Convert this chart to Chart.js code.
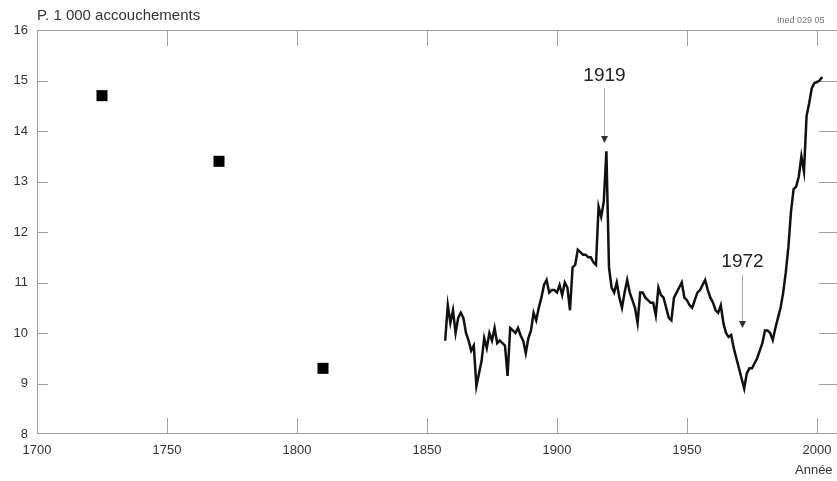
<!DOCTYPE html>
<html>
<head>
<meta charset="utf-8">
<script src="https://cdn.jsdelivr.net/npm/chart.js@4/dist/chart.umd.min.js"></script>
<style>
html, body { margin: 0; padding: 0; background: #fff; }
</style>
</head>
<body>
<canvas id="chart" width="837" height="481"></canvas>
<script>
// taux pour 1 000 accouchements, série annuelle 1857-2002
const firstYear = 1857
const rates = [
    9.85, 10.55, 10.2, 10.45, 10.0, 10.3, 10.4, 10.3, 10.0, 9.85,
    9.65, 9.75, 8.95, 9.2, 9.45, 9.9, 9.7, 10.0, 9.85, 10.1,
    9.8, 9.85, 9.8, 9.75, 9.15, 10.1, 10.05, 10.0, 10.1, 9.95,
    9.85, 9.6, 9.9, 10.05, 10.4, 10.25, 10.5, 10.7, 10.95, 11.05,
    10.8, 10.85, 10.85, 10.8, 10.95, 10.75, 11.0, 10.9, 10.45, 11.3,
    11.35, 11.65, 11.6, 11.55, 11.55, 11.5, 11.5, 11.4, 11.35, 12.5,
    12.3, 12.6, 13.6, 11.3, 10.9, 10.8, 11.0, 10.7, 10.5, 10.8,
    11.05, 10.8, 10.65, 10.5, 10.2, 10.8, 10.8, 10.7, 10.65, 10.6,
    10.6, 10.35, 10.9, 10.75, 10.7, 10.5, 10.3, 10.25, 10.7, 10.8,
    10.9, 11.0, 10.7, 10.65, 10.55, 10.5, 10.65, 10.8, 10.85, 10.95,
    11.05, 10.85, 10.7, 10.6, 10.45, 10.4, 10.55, 10.2, 10.0, 9.92,
    9.96, 9.7, 9.5, 9.3, 9.1, 8.9, 9.2, 9.3, 9.3, 9.4,
    9.5, 9.65, 9.8, 10.05, 10.05, 10.0, 9.86, 10.1, 10.3, 10.5,
    10.8, 11.2, 11.7, 12.4, 12.85, 12.9, 13.1, 13.5, 13.2, 14.3,
    14.55, 14.85, 14.95, 14.97, 15.0, 15.07
]

// estimations anciennes (carrés)
const earlyYears = [1725, 1770, 1810]
const earlyRates = [14.7, 13.4, 9.3]

const xTicks = [1700, 1750, 1800, 1850, 1900, 1950, 2000]
const yTicks = [8, 9, 10, 11, 12, 13, 14, 15, 16]

const markYears = [1919, 1972]

const FONT = '"Liberation Sans", Arial, Helvetica, sans-serif'
const TEXT = '#333'
const FRAME = '#a0a0a0'

// arrows above the two notable years: label value, arrow tip value
const markPos = {
    1919: { label: 15.1, lineTop: 14.85, tip: 13.76 },
    1972: { label: 11.42, lineTop: 11.15, tip: 10.1 }
}

const frame = {
    id: 'frame',
    beforeDatasetsDraw(chart) {
        const ctx = chart.ctx
        const { left, right, top, bottom } = chart.chartArea
        const x = chart.scales.x
        const y = chart.scales.y
        ctx.save()
        ctx.strokeStyle = FRAME
        ctx.lineWidth = 1
        ctx.beginPath()
        ctx.moveTo(left, top + 0.5); ctx.lineTo(right, top + 0.5)
        ctx.moveTo(left + 0.5, top); ctx.lineTo(left + 0.5, bottom)
        ctx.moveTo(left, bottom - 0.5); ctx.lineTo(right, bottom - 0.5)
        xTicks.forEach(v => {
            if (v === xTicks[0]) return
            const px = Math.round(x.getPixelForValue(v)) + 0.5
            ctx.moveTo(px, bottom); ctx.lineTo(px, bottom - 16)
            ctx.moveTo(px, top); ctx.lineTo(px, top + 16)
        })
        yTicks.forEach(v => {
            if (v === yTicks[0] || v === yTicks[yTicks.length - 1]) return
            const py = Math.round(y.getPixelForValue(v)) + 0.5
            ctx.moveTo(left, py); ctx.lineTo(left + 11, py)
            ctx.moveTo(right - 18, py); ctx.lineTo(right, py)
        })
        ctx.stroke()

        ctx.fillStyle = TEXT
        ctx.font = '15px ' + FONT
        ctx.textBaseline = 'middle'
        ctx.textAlign = 'left'
        ctx.fillText('P. 1 000 accouchements', 37, 16)
        ctx.font = '13px ' + FONT
        ctx.fillText('Année', 795, 470)
        ctx.fillStyle = '#777'
        ctx.font = '9px ' + FONT
        ctx.fillText('Ined 029 05', 777, 21)
        ctx.restore()
    },
    afterDraw(chart) {
        const ctx = chart.ctx
        const x = chart.scales.x
        const y = chart.scales.y
        ctx.save()
        markYears.forEach(yr => {
            const p = markPos[yr]
            const px = Math.round(x.getPixelForValue(yr)) - 1.5
            const tip = y.getPixelForValue(p.tip)
            ctx.fillStyle = '#222'
            ctx.font = '19px ' + FONT
            ctx.textAlign = 'center'
            ctx.textBaseline = 'middle'
            ctx.fillText(String(yr), px, y.getPixelForValue(p.label))
            ctx.strokeStyle = '#aaa'
            ctx.lineWidth = 1
            ctx.beginPath()
            ctx.moveTo(px, y.getPixelForValue(p.lineTop))
            ctx.lineTo(px, tip - 6)
            ctx.stroke()
            ctx.fillStyle = '#333'
            ctx.beginPath()
            ctx.moveTo(px - 3.5, tip - 7)
            ctx.lineTo(px + 3.5, tip - 7)
            ctx.lineTo(px, tip)
            ctx.closePath()
            ctx.fill()
        })
        ctx.restore()
    }
}

const ctx = document.getElementById('chart')

new Chart(ctx, {
    type: 'scatter',
    data: {
        datasets: [
            {
                label: 'Accouchements multiples',
                data: rates.map((v, i) => ({ x: firstYear + i, y: v })),
                showLine: true,
                borderColor: '#111',
                borderWidth: 2.5,
                pointRadius: 0,
                tension: 0
            },
            {
                label: 'Estimations',
                data: earlyYears.map((yr, i) => ({ x: yr, y: earlyRates[i] })),
                pointStyle: 'rect',
                pointRadius: 7.8,
                backgroundColor: '#000',
                borderWidth: 0
            }
        ]
    },
    options: {
        responsive: false,
        animation: false,
        events: [],
        layout: { autoPadding: false, padding: { top: 30, right: 0, left: 0, bottom: 0 } },
        plugins: {
            legend: { display: false },
            tooltip: { enabled: false }
        },
        scales: {
            x: {
                type: 'linear',
                min: 1700,
                max: 2007.7,
                afterBuildTicks: s => { s.ticks = xTicks.map(v => ({ value: v })) },
                afterFit: s => { s.height = 47; s.paddingLeft = 0; s.paddingRight = 0 },
                grid: { display: false, drawTicks: false },
                border: { display: false },
                ticks: {
                    color: TEXT,
                    font: { family: FONT, size: 13 },
                    padding: 9,
                    maxRotation: 0,
                    autoSkip: false,
                    callback: v => String(v)
                }
            },
            y: {
                min: 8,
                max: 16,
                afterBuildTicks: s => { s.ticks = yTicks.map(v => ({ value: v })) },
                afterFit: s => { s.width = 37 },
                grid: { display: false, drawTicks: false },
                border: { display: false },
                ticks: {
                    color: TEXT,
                    font: { family: FONT, size: 13 },
                    padding: 9,
                    autoSkip: false,
                    callback: v => String(v)
                }
            }
        }
    },
    plugins: [frame]
})
</script>
</body>
</html>
